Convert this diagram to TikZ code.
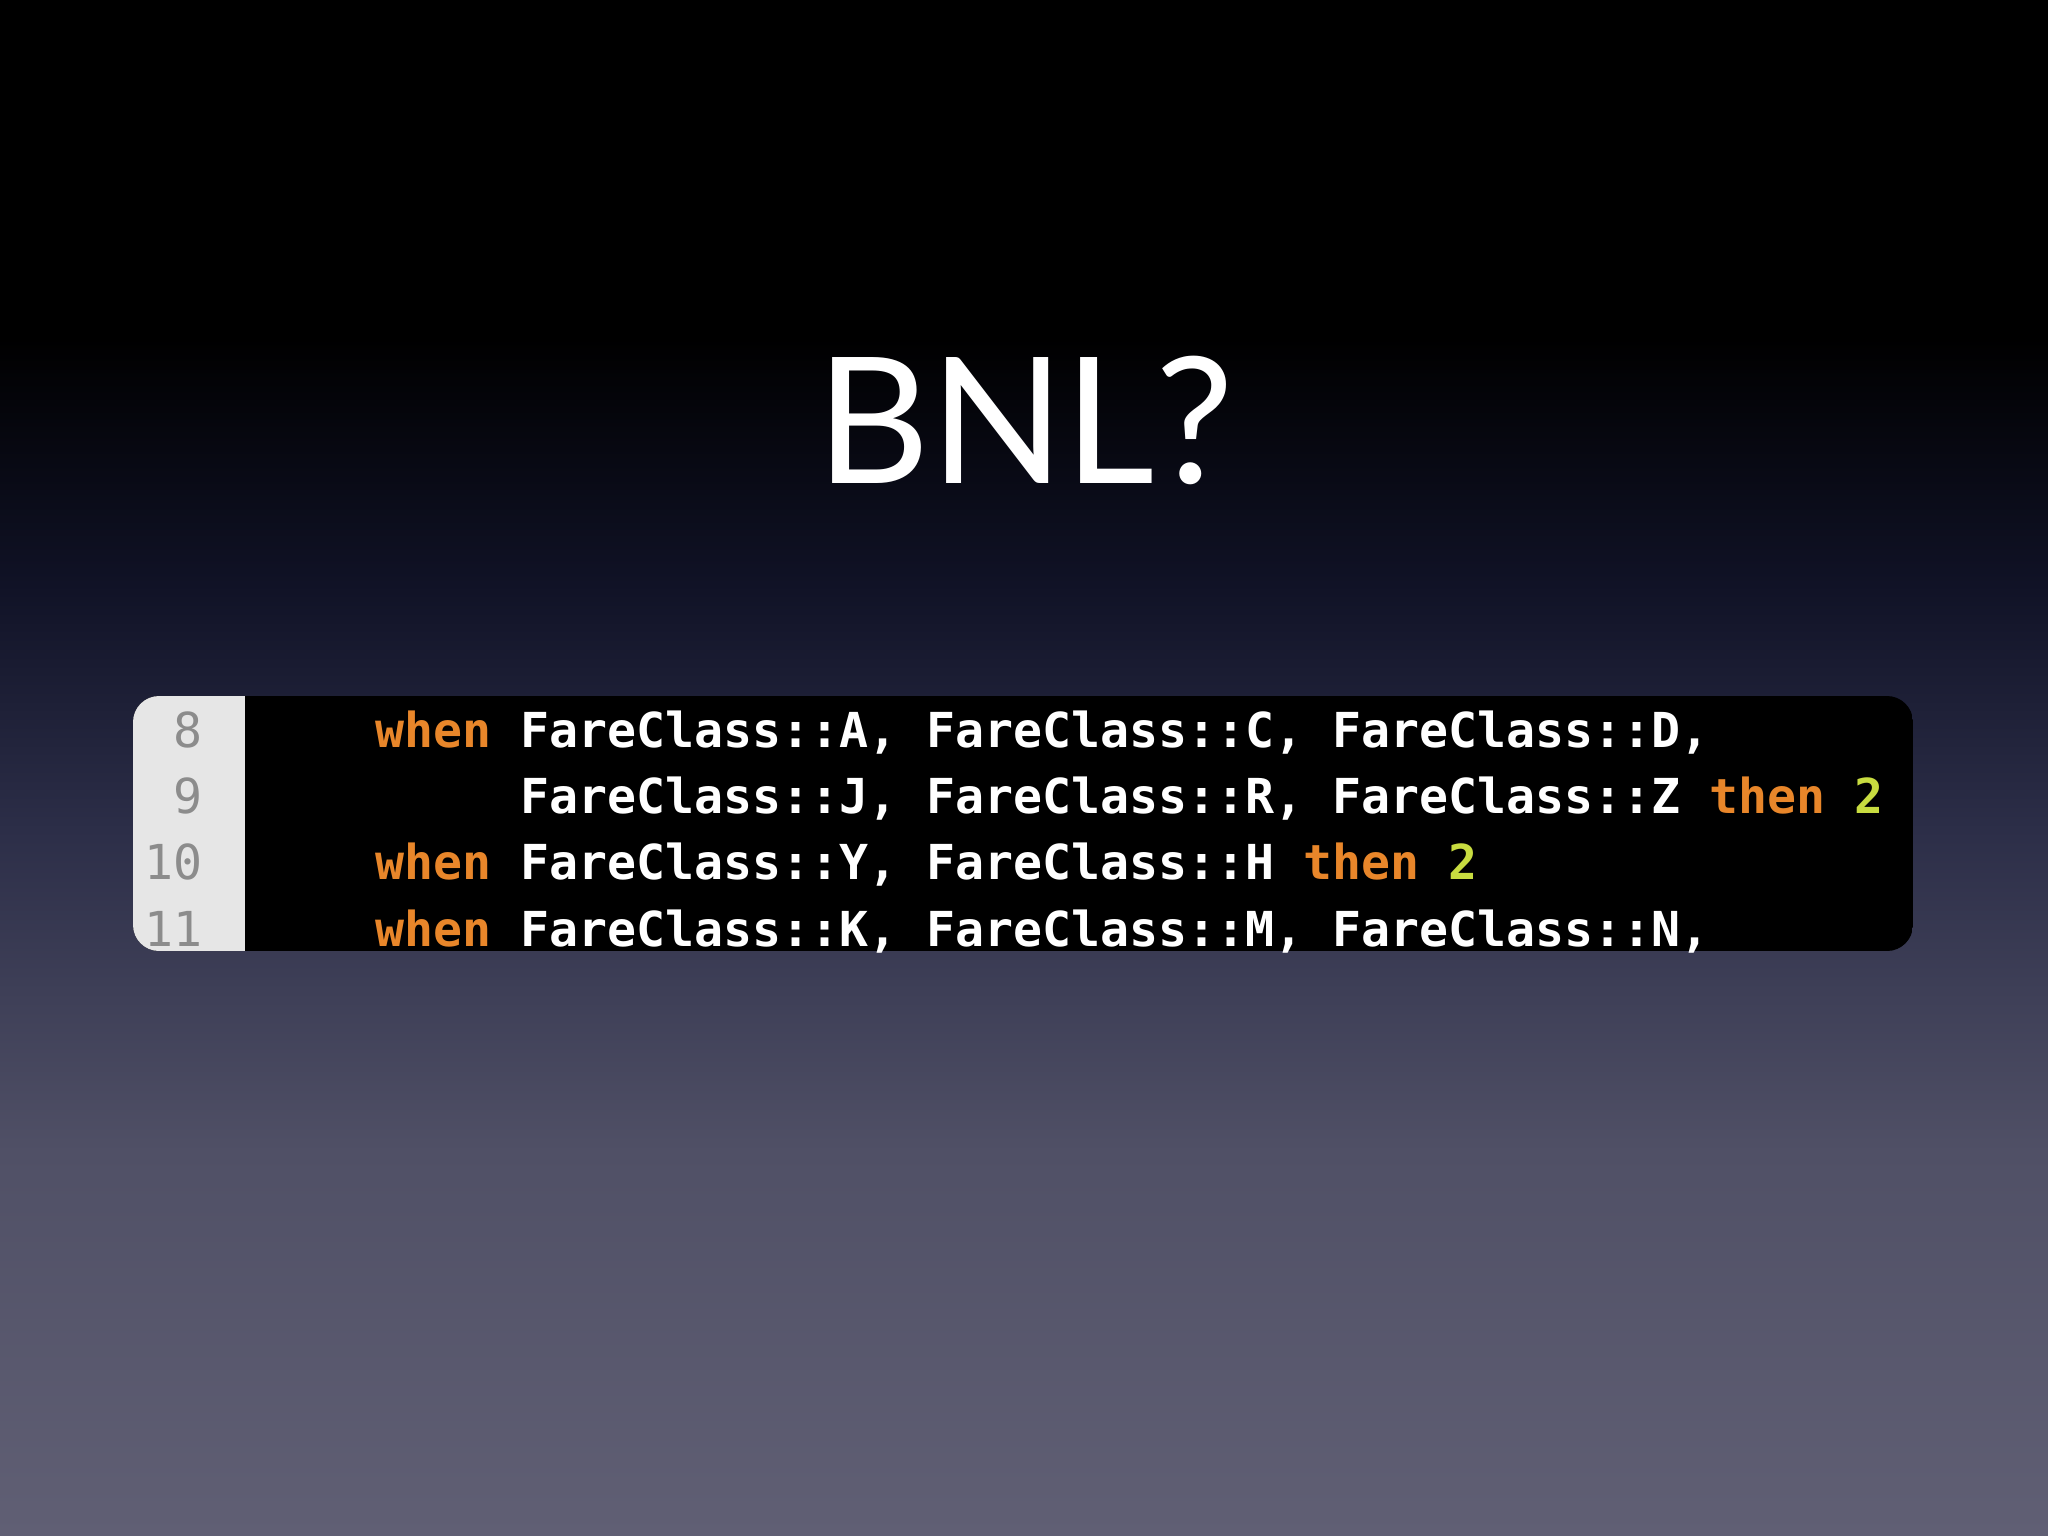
\documentclass[tikz,border=0pt]{standalone}
\usepackage{fontspec}
\setmainfont{Lato}
\setmonofont{DejaVu Sans Mono}
\definecolor{kw}{HTML}{E8862A}
\definecolor{num}{HTML}{C8DC40}
\definecolor{gut}{HTML}{E6E6E6}
\definecolor{lnum}{HTML}{8C8C8C}
\definecolor{bgA}{RGB}{96,95,116}
\definecolor{bgB}{RGB}{80,80,102}
\definecolor{bgC}{RGB}{44,46,72}
\definecolor{bgD}{RGB}{16,18,38}
\pgfdeclareverticalshading{bg}{100bp}{color(0bp)=(bgA); color(25bp)=(bgA); color(37.5bp)=(bgB); color(48bp)=(bgC); color(56bp)=(bgD); color(64bp)=(black); color(100bp)=(black)}
\tikzset{code/.style={anchor=base west,inner sep=0,font=\ttfamily\bfseries\fontsize{13.7pt}{16pt}\selectfont,text=white},
lno/.style={anchor=base east,inner sep=0,font=\ttfamily\fontsize{13.7pt}{16pt}\selectfont,text=lnum}}
\begin{document}
\begin{tikzpicture}[x=0.01cm,y=-0.01cm]
\useasboundingbox (0,0) rectangle (2048,1536);
\shade[shading=bg] (0,0) rectangle (2048,1536);
\node[font=\fontsize{50pt}{60pt}\selectfont,text=white,inner sep=0] (title) at (1025,420) {BNL?};
\begin{scope}
\clip[rounded corners=0.26cm] (133,696) rectangle (1913,951);
\fill[black] (133,696) rectangle (1913,951);
\fill[gut] (133,696) rectangle (245,951);
\end{scope}
\node[lno] (n8) at (203,747) {8};
\node[lno] (n9) at (203,813) {9};
\node[lno] (n10) at (203,879) {10};
\node[lno] (n11) at (203,946) {11};
\node[code] (l8) at (375,747) {\textcolor{kw}{when} FareClass::A, FareClass::C, FareClass::D,};
\node[code] (l9) at (375,813) {\phantom{when }FareClass::J, FareClass::R, FareClass::Z \textcolor{kw}{then} \textcolor{num}{2}};
\node[code] (l10) at (375,879) {\textcolor{kw}{when} FareClass::Y, FareClass::H \textcolor{kw}{then} \textcolor{num}{2}};
\node[code] (l11) at (375,946) {\textcolor{kw}{when} FareClass::K, FareClass::M, FareClass::N,};
\end{tikzpicture}
\end{document}
